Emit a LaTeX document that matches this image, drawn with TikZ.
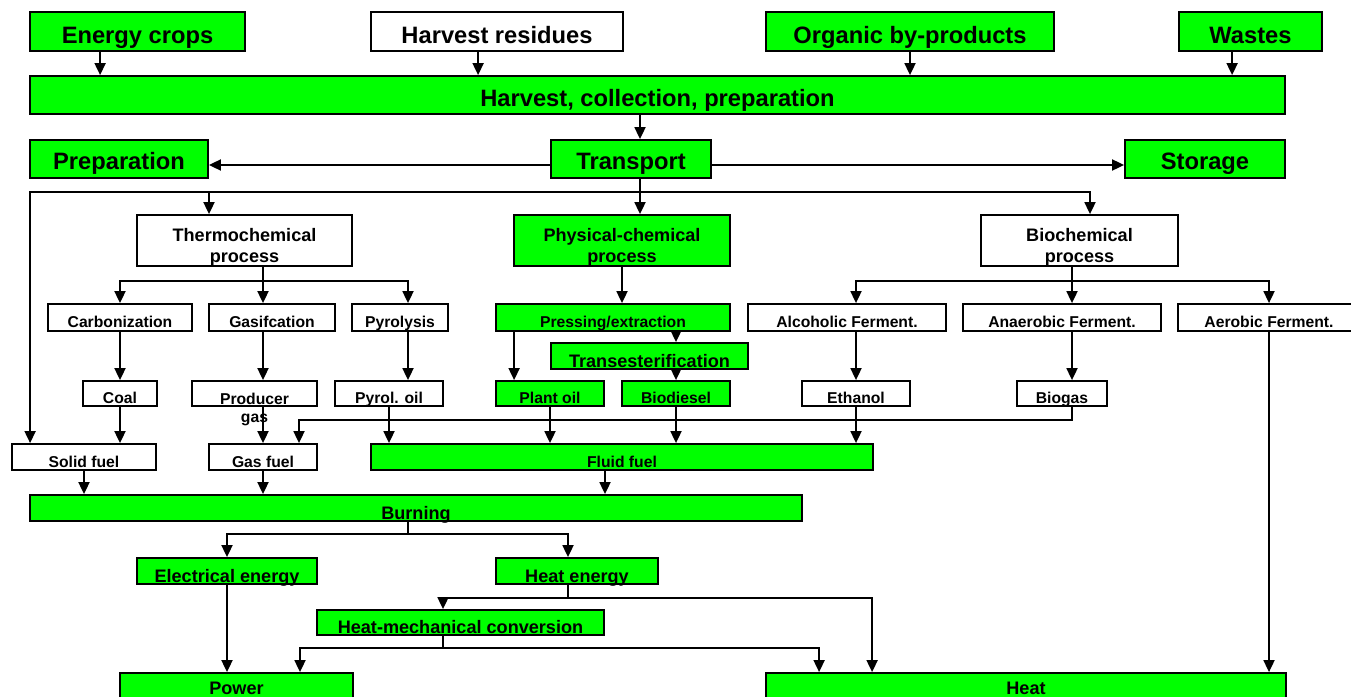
\documentclass[tikz,border=0pt]{standalone}
\usepackage{fontspec}
\setmainfont{Liberation Sans}
\usetikzlibrary{arrows.meta,calc}

\newcommand{\fbig}{\fontsize{23.7pt}{26pt}\selectfont\bfseries}
\newcommand{\fmid}{\fontsize{18.1pt}{21pt}\selectfont\bfseries}
\newcommand{\fsml}{\fontsize{15.7pt}{18pt}\selectfont\bfseries}

\begin{document}
\begin{tikzpicture}[x=1pt, y=-1pt, line width=1.8pt]
    \tikzstyle{every node}+=[inner sep=0pt]
    \tikzset{
        wbox/.style={draw, fill=white},
        gbox/.style={draw, fill=green},
        big/.style={font=\fbig},
        mid/.style={font=\fmid},
        sml/.style={font=\fsml},
        drop/.style={text height=#1, text depth=0pt},
        arr/.style={-{Triangle[length=12pt, width=11pt]}}
    }
    \useasboundingbox (0,0) rectangle (1351,696);
    \clip (0,0) rectangle (1351,696);

    % sources
    \node[gbox, big, drop=23pt, minimum width=215pt, minimum height=39pt] (crops) at (137.5,31.5) {Energy crops};
    \node[wbox, big, drop=23pt, minimum width=252pt, minimum height=39pt] (resid) at (497,31.5) {Harvest residues};
    \node[gbox, big, drop=23pt, minimum width=288pt, minimum height=39pt] (byprod) at (910,31.5) {Organic by-products};
    \node[gbox, big, drop=23pt, minimum width=143pt, minimum height=39pt] (waste) at (1250.5,31.5) {Wastes};
    \node[gbox, big, drop=22pt, minimum width=1255pt, minimum height=38pt] (harv) at (657.5,95) {Harvest, collection, preparation};

    \node[gbox, big, drop=20pt, minimum width=178pt, minimum height=38pt] (prep) at (119,159) {Preparation};
    \node[gbox, big, drop=20pt, minimum width=160pt, minimum height=38pt] (transp) at (631,159) {Transport};
    \node[gbox, big, drop=20pt, minimum width=160pt, minimum height=38pt] (stor) at (1205,159) {Storage};

    % processes
    \node[wbox, mid, align=center, drop=43pt, minimum width=215pt, minimum height=51pt] (thermo) at (244.5,240.5) {Thermochemical\\process};
    \node[gbox, mid, align=center, drop=43pt, minimum width=216pt, minimum height=51pt] (physchem) at (622,240.5) {Physical-chemical\\process};
    \node[wbox, mid, align=center, drop=43pt, minimum width=197pt, minimum height=51pt] (biochem) at (1079.5,240.5) {Biochemical\\process};

    \node[wbox, sml, drop=19pt, minimum width=144pt, minimum height=27pt] (carb) at (120,317.5) {Carbonization};
    \node[wbox, sml, drop=19pt, minimum width=126pt, minimum height=27pt] (gasif) at (272,317.5) {Gasifcation};
    \node[wbox, sml, drop=19pt, minimum width=96pt, minimum height=27pt] (pyrol) at (400,317.5) {Pyrolysis};
    \node[gbox, sml, drop=19pt, minimum width=234pt, minimum height=27pt] (press) at (613,317.5) {Pressing/extraction};
    \node[wbox, sml, drop=19pt, minimum width=198pt, minimum height=27pt] (alcf) at (847,317.5) {Alcoholic Ferment.};
    \node[wbox, sml, drop=19pt, minimum width=198pt, minimum height=27pt] (anaf) at (1062,317.5) {Anaerobic Ferment.};
    \node[wbox, sml, drop=19pt, minimum width=182pt, minimum height=27pt] (aerf) at (1269,317.5) {Aerobic Ferment.};
    \node[gbox, mid, drop=22pt, minimum width=197pt, minimum height=26pt] (trans) at (649.5,356) {Transesterification};

    % products
    \node[wbox, sml, drop=19pt, minimum width=74pt, minimum height=25pt] (coal) at (120,393.5) {Coal};
    \node[wbox, minimum width=125pt, minimum height=25pt] (prodgas) at (254.5,393.5) {};
    \node[sml, align=center, anchor=north] (prodgastxt) at (254.5,392) {Producer\\gas};
    \node[wbox, sml, drop=19pt, minimum width=108pt, minimum height=25pt] (pyoil) at (389,393.5) {Pyrol. oil};
    \node[gbox, sml, drop=19pt, minimum width=108pt, minimum height=25pt] (plantoil) at (550,393.5) {Plant oil};
    \node[gbox, sml, drop=19pt, minimum width=108pt, minimum height=25pt] (biodsl) at (676,393.5) {Biodiesel};
    \node[wbox, sml, drop=19pt, minimum width=108pt, minimum height=25pt] (ethanol) at (856,393.5) {Ethanol};
    \node[wbox, sml, drop=19pt, minimum width=90pt, minimum height=25pt] (biogas) at (1062,393.5) {Biogas};

    \node[wbox, sml, drop=20pt, minimum width=144pt, minimum height=26pt] (solid) at (84,457) {Solid fuel};
    \node[wbox, sml, drop=20pt, minimum width=108pt, minimum height=26pt] (gasfuel) at (263,457) {Gas fuel};
    \node[gbox, sml, drop=20pt, minimum width=502pt, minimum height=26pt] (fluid) at (622,457) {Fluid fuel};

    % use
    \node[gbox, mid, drop=22pt, minimum width=772pt, minimum height=26pt] (burn) at (416,508) {Burning};
    \node[gbox, mid, drop=22pt, minimum width=180pt, minimum height=26pt] (elec) at (227,571) {Electrical energy};
    \node[gbox, mid, drop=22pt, minimum width=162pt, minimum height=26pt] (heatE) at (577,571) {Heat energy};
    \node[gbox, mid, drop=21pt, minimum width=287pt, minimum height=25pt] (hmc) at (460.5,622.5) {Heat-mechanical conversion};
    \node[gbox, mid, drop=0pt, minimum width=233pt, minimum height=42pt] (power) at (236.5,694) {Power};
    \node[gbox, mid, drop=0pt, minimum width=520pt, minimum height=42pt] (heat) at (1026,694) {Heat};

    % top arrows
    \draw[arr] ([xshift=71pt]crops.south west) -- ($(crops.south west |- harv.north)+(71,0)$);
    \draw[arr] ([xshift=108pt]resid.south west) -- ($(resid.south west |- harv.north)+(108,0)$);
    \draw[arr] (byprod.south) -- (byprod.south |- harv.north);
    \draw[arr] ([xshift=54pt]waste.south west) -- ($(waste.south west |- harv.north)+(54,0)$);
    \draw[arr] ($(transp.north |- harv.south)+(9,0)$) -- ([xshift=9pt]transp.north);
    \draw[arr] ([yshift=-6pt]transp.west) -- ($(transp.west -| prep.east)+(0,6)$);
    \draw[arr] ([yshift=-6pt]transp.east) -- ($(transp.east -| stor.west)+(0,6)$);
    \draw[arr] ([xshift=9pt]transp.south) -- ($(transp.south |- physchem.north)+(9,0)$);

    \coordinate (split) at ($(transp.south)+(9,13)$);
    \draw[arr] (split) -| ($(solid.north west)+(19,0)$);
    \draw[arr] (split) -| ($(thermo.north)+(-35.5,0)$);
    \draw[arr] (split) -| ($(biochem.north)+(10.5,0)$);

    % thermochemical branch
    \coordinate (tsplit) at ($(thermo.south)+(18.5,14)$);
    \draw (tsplit |- thermo.south) -- (tsplit);
    \draw[arr] (tsplit) -| (carb.north);
    \draw[arr] (tsplit) -- (tsplit |- gasif.north);
    \draw[arr] (tsplit) -| ($(pyrol.north)+(8,0)$);
    \draw[arr] (carb.south) -- (carb.south |- coal.north);
    \draw[arr] (tsplit |- gasif.south) -- (tsplit |- prodgas.north);
    \draw[arr] ($(pyrol.south)+(8,0)$) -- ($(pyrol.south |- pyoil.north)+(8,0)$);

    % physical-chemical branch
    \draw[arr] (physchem.south) -- (physchem.south |- press.north);
    \draw[arr] ($(press.south west)+(19,0)$) -- ($(press.south west |- plantoil.north)+(19,0)$);
    \draw[arr] (biodsl.north |- press.south) -- (biodsl.north |- trans.north);
    \draw[arr] (biodsl.north |- trans.south) -- (biodsl.north);

    % biochemical branch
    \coordinate (bsplit) at ($(biochem.south)+(-7.5,14)$);
    \draw (bsplit |- biochem.south) -- (bsplit);
    \draw[arr] (bsplit) -| (ethanol.north |- alcf.north);
    \draw[arr] (bsplit) -- (bsplit |- anaf.north);
    \draw[arr] (bsplit) -| (aerf.north);
    \draw[arr] (ethanol.north |- alcf.south) -- (ethanol.north);
    \draw[arr] (bsplit |- anaf.south) -- (bsplit |- biogas.north);

    % fuels
    \draw[arr] (coal.south) -- (coal.south |- solid.north);
    \draw[arr] (gasfuel.north |- prodgas.south) -- (gasfuel.north);
    \coordinate (gturn) at ($(bsplit |- biogas.south)+(0,13)$);
    \draw[arr] (bsplit |- biogas.south) -- (gturn) -| ($(gasfuel.north)+(36,0)$);
    \draw[arr] (pyoil.south) -- (pyoil.south |- fluid.north);
    \draw[arr] (plantoil.south) -- (plantoil.south |- fluid.north);
    \draw[arr] (biodsl.south) -- (biodsl.south |- fluid.north);
    \draw[arr] (ethanol.south) -- (ethanol.south |- fluid.north);

    \draw[arr] (solid.south) -- (solid.south |- burn.north);
    \draw[arr] (gasfuel.south) -- (gasfuel.south |- burn.north);
    \draw[arr] ($(fluid.south)+(-17,0)$) -- ($(fluid.south |- burn.north)+(-17,0)$);

    % energy
    \coordinate (esplit) at ($(burn.south)+(-8,12)$);
    \draw ($(burn.south)+(-8,0)$) -- (esplit);
    \draw[arr] (esplit) -| (elec.north);
    \draw[arr] (esplit) -| ($(heatE.north)+(-9,0)$);

    \coordinate (hsplit) at ($(heatE.south)+(-9,13)$);
    \draw ($(heatE.south)+(-9,0)$) -- (hsplit);
    \draw[arr] (hsplit) -| ($(hmc.north)+(-17.5,0)$);
    \draw[arr] (hsplit) -| ($(heat.north west)+(107,0)$);

    \coordinate (msplit) at ($(hmc.south)+(-17.5,12)$);
    \draw ($(hmc.south)+(-17.5,0)$) -- (msplit);
    \draw[arr] (msplit) -| ($(power.north)+(63.5,0)$);
    \draw[arr] (msplit) -| ($(heat.north west)+(54,0)$);

    \draw[arr] (elec.south) -- (elec.south |- power.north);
    \draw[arr] (aerf.south) -- (aerf.south |- heat.north);
\end{tikzpicture}
\end{document}
